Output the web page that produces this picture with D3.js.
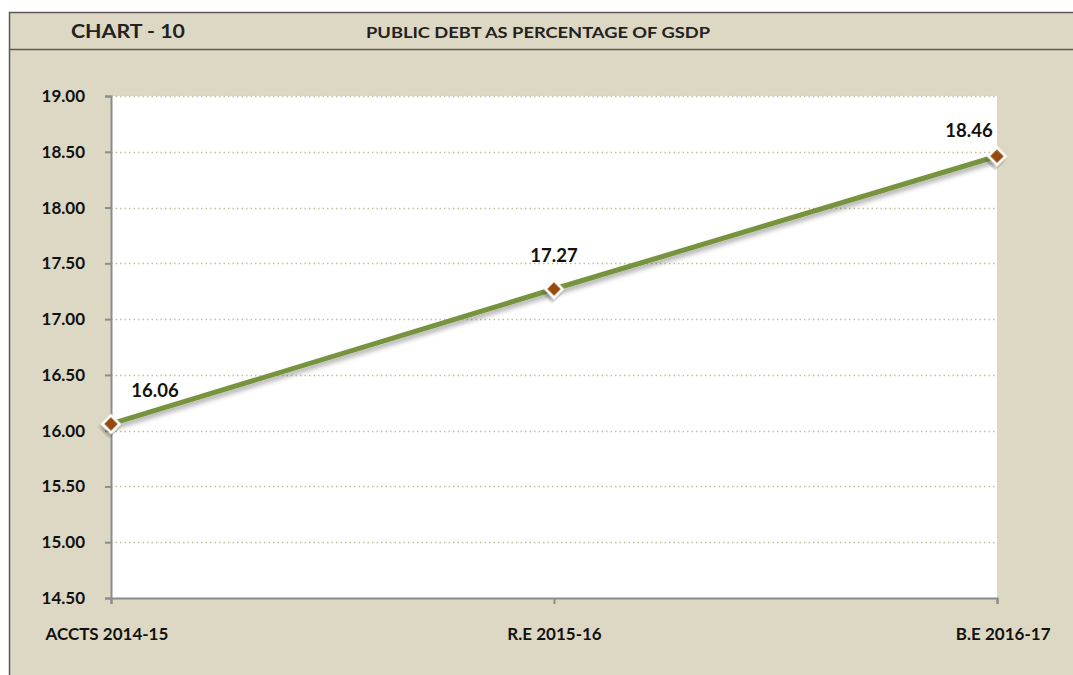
<!DOCTYPE html>
<html>
<head>
<meta charset="utf-8">
<script src="https://cdn.jsdelivr.net/npm/d3@7"></script>
<style>
  body { margin: 0; background: #fff; }
  svg { display: block; font-family: Lato, "Open Sans", sans-serif; }
</style>
</head>
<body>
<svg width="1073" height="675"></svg>
<script>
const categories = ['ACCTS 2014-15', 'R.E 2015-16', 'B.E 2016-17'],
  values = [16.06, 17.27, 18.46],
  yTicks = [14.5, 15, 15.5, 16, 16.5, 17, 17.5, 18, 18.5, 19],
  labelShift = [[44, -33], [0, -33], [-28, -26]]

const svg = d3.select('svg'),
  plotLeft = 111,
  plotRight = 997,
  plotTop = 96,
  plotBottom = 598,
  scaleX = d3.scalePoint().domain(categories).range([plotLeft, plotRight]),
  scaleY = d3.scaleLinear().domain([14.5, 19]).range([plotBottom, plotTop])

// shadow for line and markers
const defs = svg.append('defs')
const f = defs.append('filter').attr('id', 'shadow').attr('x', '-20%').attr('y', '-20%').attr('width', '140%').attr('height', '160%')
f.append('feDropShadow').attr('dx', 2).attr('dy', 3).attr('stdDeviation', 2.5).attr('flood-color', '#000').attr('flood-opacity', 0.35)

// frame background
svg.append('rect').attr('x', 9.5).attr('y', 12.5).attr('width', 1070).attr('height', 670)
  .attr('fill', '#ddd8c3').attr('stroke', '#5a5a5a').attr('stroke-width', 1.5)
svg.append('line').attr('x1', 9.5).attr('x2', 1073).attr('y1', 49.5).attr('y2', 49.5)
  .attr('stroke', '#5a5a5a').attr('stroke-width', 1.5)

svg.append('text').attr('x', 71).attr('y', 38).attr('font-size', 19).attr('font-weight', 'bold')
  .attr('textLength', 114).attr('lengthAdjust', 'spacingAndGlyphs')
  .attr('fill', '#222').text('CHART - 10')
svg.append('text').attr('x', 366).attr('y', 38).attr('font-size', 15.5).attr('font-weight', 'bold')
  .attr('textLength', 344).attr('lengthAdjust', 'spacingAndGlyphs')
  .attr('fill', '#222').text('PUBLIC DEBT AS PERCENTAGE OF GSDP')

// plot area
svg.append('rect').attr('x', plotLeft).attr('y', plotTop).attr('width', plotRight - plotLeft).attr('height', plotBottom - plotTop)
  .attr('fill', '#fff')

// gridlines
svg.append('g').selectAll('line').data(yTicks.filter(d => d > 14.5))
  .join('line')
  .attr('x1', plotLeft).attr('x2', plotRight)
  .attr('y1', d => Math.round(scaleY(d)) + 0.5).attr('y2', d => Math.round(scaleY(d)) + 0.5)
  .attr('stroke', '#c4bd97').attr('stroke-width', 1.5).attr('stroke-dasharray', '1.5,3')

// axes
const axisY = svg.append('g').attr('transform', `translate(${plotLeft},0)`)
  .call(d3.axisLeft(scaleY).tickValues(yTicks).tickFormat(d3.format('.2f')).tickSize(6).tickPadding(20))
const axisX = svg.append('g').attr('transform', `translate(0,${plotBottom})`)
  .call(d3.axisBottom(scaleX).tickSize(6).tickPadding(24))
;[axisY, axisX].forEach(a => {
  a.select('.domain').attr('stroke', '#8c8c8c').attr('stroke-width', 2)
  a.selectAll('.tick line').attr('stroke', '#8c8c8c').attr('stroke-width', 2)
  a.selectAll('text').attr('font-size', 17).attr('font-weight', 'bold').attr('fill', '#111')
    .attr('font-family', 'Lato, "Open Sans", sans-serif')
})
axisX.selectAll('.tick text').attr('text-anchor', (d, i) => i === 0 ? 'start' : i === 2 ? 'end' : 'middle')
  .attr('dx', (d, i) => i === 0 ? -66 : i === 2 ? 53 : 0)

// line
const linePath = d3.line().x((d, i) => scaleX(categories[i])).y(d => scaleY(d))
svg.append('path').attr('d', linePath(values)).attr('fill', 'none')
  .attr('stroke', '#77933c').attr('stroke-width', 5).attr('filter', 'url(#shadow)')

// markers
svg.append('g').selectAll('path').data(values).join('path')
  .attr('d', d3.symbol().type(d3.symbolSquare).size(150))
  .attr('transform', (d, i) => `translate(${scaleX(categories[i])},${scaleY(d)}) rotate(45)`)
  .attr('fill', '#984807').attr('stroke', '#fff').attr('stroke-width', 2.5)
  .attr('filter', 'url(#shadow)')

// data labels
svg.append('g').selectAll('text').data(values).join('text')
  .attr('x', (d, i) => scaleX(categories[i]) + labelShift[i][0])
  .attr('y', (d, i) => scaleY(d) + labelShift[i][1])
  .attr('text-anchor', 'middle').attr('dy', '0.35em')
  .attr('font-size', 18.5).attr('font-weight', 'bold').attr('fill', '#111')
  .text(d => d.toFixed(2))
</script>
</body>
</html>
